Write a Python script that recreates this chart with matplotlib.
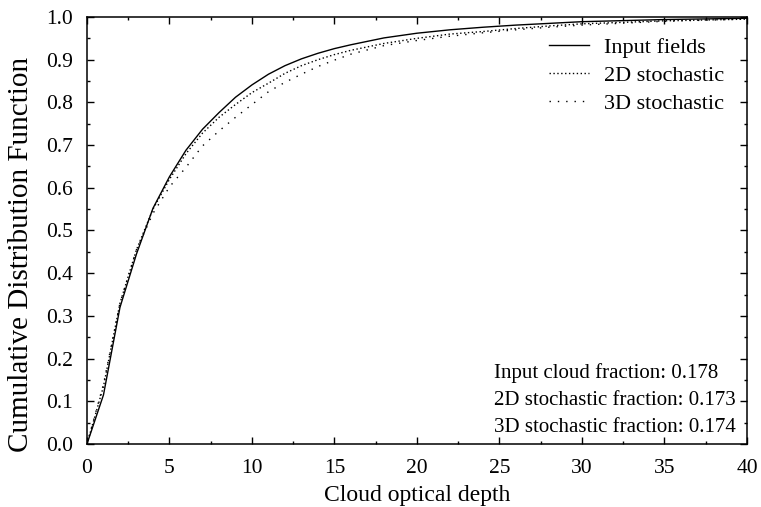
import numpy as np
import matplotlib.pyplot as plt
from matplotlib.ticker import MultipleLocator

# cloud optical depth grid
depth = [0, 1, 2, 3, 4, 5, 6, 7, 8, 9, 10, 11, 12, 13, 14, 15, 16, 18, 20, 22, 24, 26, 28, 30, 35, 40]
# CDF values
cdf_input = [0, 0.115, 0.32, 0.445, 0.552, 0.626, 0.688, 0.737, 0.776, 0.812, 0.841, 0.866, 0.886,
             0.902, 0.915, 0.926, 0.935, 0.951, 0.962, 0.970, 0.976, 0.981, 0.985, 0.989, 0.994, 0.997]
cdf_2d = [0, 0.135, 0.33, 0.455, 0.55, 0.62, 0.68, 0.728, 0.765, 0.795, 0.823, 0.845, 0.868,
          0.886, 0.90, 0.912, 0.922, 0.938, 0.950, 0.960, 0.966, 0.973, 0.979, 0.984, 0.991, 0.995]
cdf_3d = [0, 0.14, 0.33, 0.455, 0.54, 0.602, 0.648, 0.698, 0.733, 0.765, 0.795, 0.825, 0.847,
          0.866, 0.884, 0.899, 0.913, 0.933, 0.945, 0.955, 0.963, 0.970, 0.976, 0.981, 0.990, 0.995]
fractions = ['Input cloud fraction: 0.178',
             '2D stochastic fraction: 0.173',
             '3D stochastic fraction: 0.174']

plt.rcParams['font.family'] = 'Liberation Serif'

fig = plt.figure(figsize=(7.61, 5.07), dpi=100)
ax = fig.add_axes([0.1143, 0.1243, 0.8673, 0.8422])

ax.plot(depth, cdf_input, color='black', lw=1.0, label='Input fields')
ax.plot(depth, cdf_2d, color='black', lw=1.0, linestyle=(0, (1, 1.8)), label='2D stochastic')
ax.plot(depth, cdf_3d, color='black', lw=1.0, linestyle=(0, (1, 5)), label='3D stochastic')

ax.set_xlim(0, 40)
ax.set_ylim(0, 1)
ax.xaxis.set_major_locator(MultipleLocator(5))
ax.xaxis.set_minor_locator(MultipleLocator(2.5))
ax.set_yticks(np.arange(0, 1.01, 0.1))
ax.set_yticklabels([f'{v:.1f}' for v in np.arange(0, 1.01, 0.1)])
ax.yaxis.set_minor_locator(MultipleLocator(0.05))
ax.tick_params(which='both', direction='in', top=True, right=True, labelsize=15.5, width=1)
ax.tick_params(which='major', length=5)
ax.tick_params(which='minor', length=2.5)
ax.tick_params(axis='x', which='major', pad=11)
ax.tick_params(axis='y', which='major', pad=10)
for s in ax.spines.values():
    s.set_linewidth(1.1)

ax.set_xlabel('Cloud optical depth', fontsize=17, labelpad=5)
ax.set_ylabel('Cumulative Distribution Function', fontsize=21)
ax.yaxis.set_label_coords(-0.08, 0.443)

ax.legend(loc='upper right', bbox_to_anchor=(0.995, 1.0), frameon=False, fontsize=16,
          handlelength=1.8, handletextpad=0.65, labelspacing=0.34)

ax.text(0.617, 0.103, '\n'.join(fractions), transform=ax.transAxes, ha='left', va='center',
        fontsize=15, linespacing=1.58)

fig.savefig('out.png', dpi=100)
